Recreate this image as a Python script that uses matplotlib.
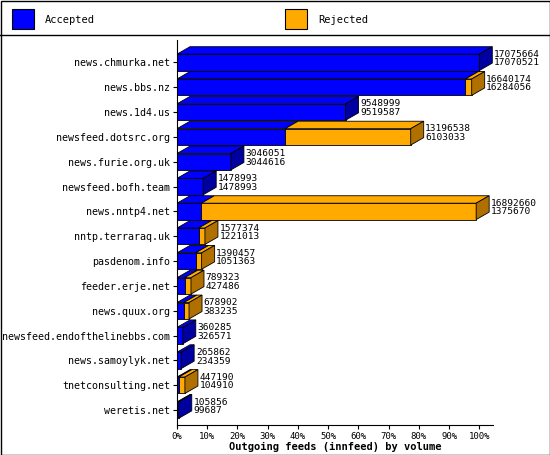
import matplotlib
matplotlib.use("Agg")
import matplotlib.pyplot as plt
from matplotlib.patches import Polygon, Rectangle

sites = ["news.chmurka.net","news.bbs.nz","news.1d4.us","newsfeed.dotsrc.org","news.furie.org.uk",
         "newsfeed.bofh.team","news.nntp4.net","nntp.terraraq.uk","pasdenom.info","feeder.erje.net",
         "news.quux.org","newsfeed.endofthelinebbs.com","news.samoylyk.net","tnetconsulting.net","weretis.net"]
offered = [17075664,16640174,9548999,13196538,3046051,1478993,16892660,1577374,1390457,789323,678902,360285,265862,447190,105856]
accepted = [17070521,16284056,9519587,6103033,3044616,1478993,1375670,1221013,1051363,427486,383235,326571,234359,104910,99687]
ticks = [f"{p}%" for p in range(0,101,10)]

W,H = 550,455
fig = plt.figure(figsize=(W/100,H/100), dpi=100)
fig.patch.set_facecolor("white")
mono = "DejaVu Sans Mono"
fig.patches.append(Rectangle((0.5/W,0.5/H),1-1/W,1-1/H,transform=fig.transFigure,fill=False,ec="black",lw=1))
fig.lines.append(plt.Line2D([0,1],[1-35/H]*2,transform=fig.transFigure,color="black",lw=1))
for x0,col,side,lab in [(12,"#0000ff","#0000a0","Accepted"),(285,"#ffaa00","#b07000","Rejected")]:
    fig.patches.append(Rectangle((x0/W,1-29/H),22/W,20/H,transform=fig.transFigure,fc=col,ec="black",lw=0.8))
    fig.text((x0+33)/W,1-20/H,lab,family=mono,fontsize=7.5,va="center")

ax = fig.add_axes([177/W,30/H,(493-177)/W,(415-30)/H])
mx = max(offered)
n = len(sites)
dx, dy, h = 4.3, 0.3, 0.66
ax.set_xlim(0,104.5); ax.set_ylim(-0.6,n-0.1)
for s in ["top","right"]: ax.spines[s].set_visible(False)
def box(x0,x1,y,fc,sc,draw_side):
    yb,yt = y-h/2,y+h/2
    ax.add_patch(Polygon([(x0,yb),(x1,yb),(x1,yt),(x0,yt)],fc=fc,ec="black",lw=0.6))
    ax.add_patch(Polygon([(x0,yt),(x1,yt),(x1+dx,yt+dy),(x0+dx,yt+dy)],fc=fc,ec="black",lw=0.6))
    if draw_side:
        ax.add_patch(Polygon([(x1,yb),(x1+dx,yb+dy),(x1+dx,yt+dy),(x1,yt)],fc=sc,ec="black",lw=0.6))
for i,(s,o,a) in enumerate(zip(sites,offered,accepted)):
    y = n-1-i
    pa = a/mx*100; po = o/mx*100
    rej = po-pa > 0.3
    box(0,pa,y,"#0000ff","#0000a0",not rej)
    if rej:
        box(pa,po,y,"#ffaa00","#b07000",True)
    ax.text(po+dx+0.5,y+0.15,f"{o}\n{a}",family=mono,fontsize=6.8,va="center",linespacing=0.95)
ax.set_yticks(range(n)); ax.set_yticklabels(sites[::-1],family=mono,fontsize=7.2)
ax.set_xticks(range(0,101,10)); ax.set_xticklabels(ticks,family=mono,fontsize=6.5)
ax.tick_params(length=3,pad=2)
ax.set_xlabel("Outgoing feeds (innfeed) by volume",family=mono,fontsize=7.5,weight="bold",labelpad=1)
fig.savefig("out.png",dpi=100)
